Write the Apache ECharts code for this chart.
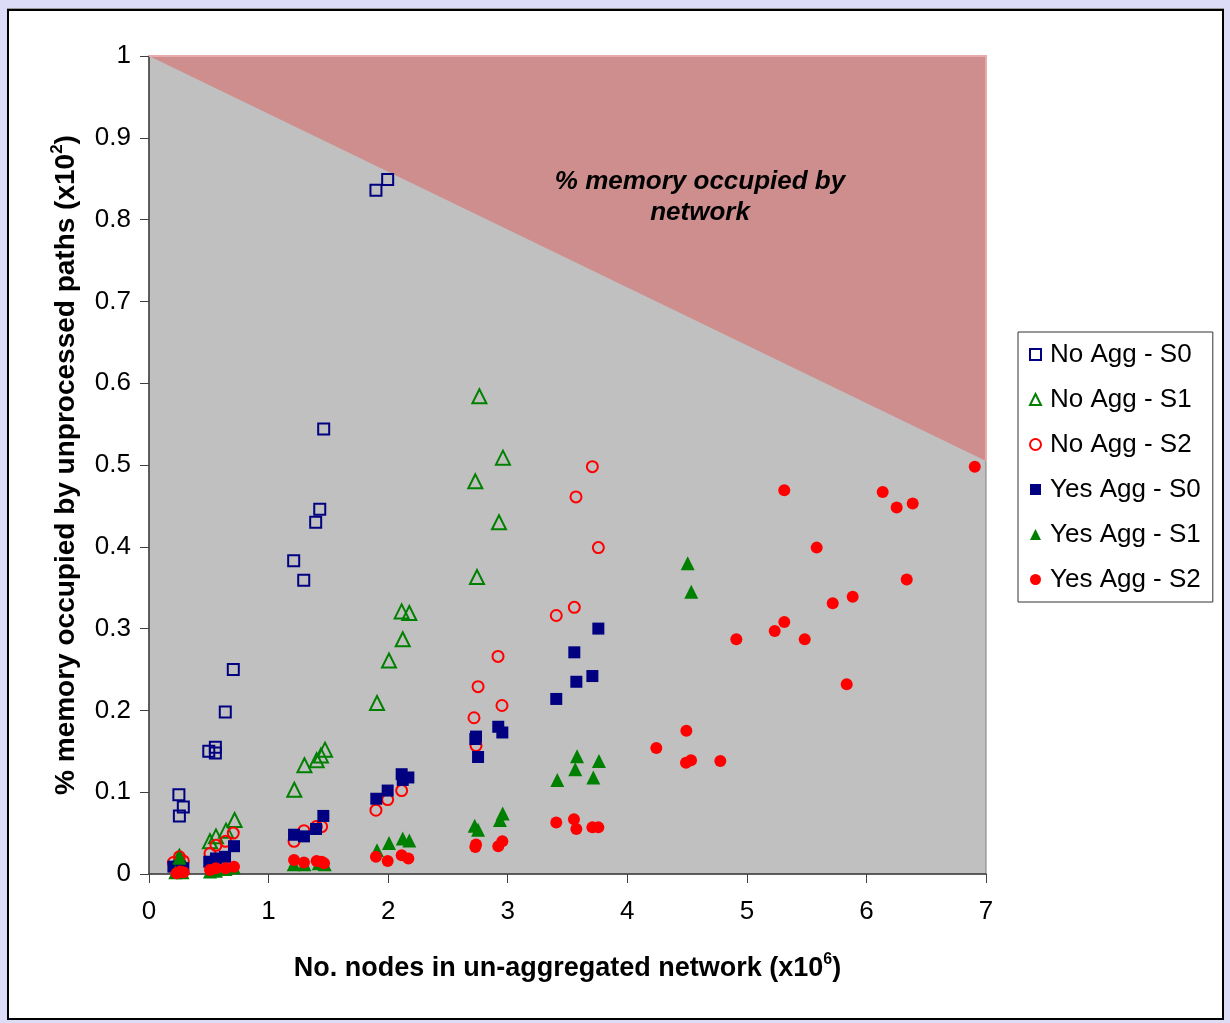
<!DOCTYPE html>
<html>
<head>
<meta charset="utf-8">
<script src="https://cdn.jsdelivr.net/npm/echarts@6/dist/echarts.min.js"></script>
<style>
  html, body { margin: 0; padding: 0; }
  body { width: 1230px; height: 1023px; background: #dcdcf6; position: relative; overflow: hidden; }
  #frame { position: absolute; left: 7px; top: 9px; width: 1213px; height: 1007px; background: #fff; border: 2px solid #000; box-shadow: 0 -1px 0 #999; }
  #chart { position: absolute; left: 0; top: 0; width: 1230px; height: 1023px; }
</style>
</head>
<body>
<div id="frame"></div>
<div id="chart"></div>
<script>
const xTicks = [0, 1, 2, 3, 4, 5, 6, 7];
const yTicks = [0, 0.1, 0.2, 0.3, 0.4, 0.5, 0.6, 0.7, 0.8, 0.9, 1];
const seriesNames = ['No Agg - S0', 'No Agg - S1', 'No Agg - S2', 'Yes Agg - S0', 'Yes Agg - S1', 'Yes Agg - S2'];

const memRegion = [[0, 1], [7, 1], [7, 0.505]];

const noAggS0 = [[0.25,0.097],[0.287,0.082],[0.254,0.071],[0.50,0.150],[0.555,0.155],[0.555,0.148],[0.638,0.198],[0.705,0.250],
  [1.21,0.383],[1.294,0.359],[1.394,0.430],[1.428,0.446],[1.461,0.544],[1.898,0.836],[1.996,0.849]];

const noAggS1 = [[0.254,0.021],[0.51,0.040],[0.56,0.046],[0.644,0.053],[0.716,0.066],[1.215,0.103],[1.30,0.133],[1.402,0.139],
  [1.438,0.145],[1.472,0.152],[1.907,0.209],[2.007,0.261],[2.122,0.287],[2.113,0.321],[2.177,0.319],[2.743,0.363],[2.729,0.480],
  [2.763,0.584],[2.927,0.430],[2.96,0.509]];

const noAggS2 = [[0.204,0.014],[0.254,0.021],[0.287,0.016],[0.51,0.025],[0.56,0.035],[0.64,0.040],[0.705,0.050],[1.213,0.040],
  [1.296,0.053],[1.40,0.058],[1.444,0.058],[1.898,0.078],[1.996,0.091],[2.113,0.102],[2.735,0.157],[2.718,0.191],[2.752,0.229],
  [2.919,0.266],[2.952,0.206],[3.406,0.316],[3.557,0.326],[3.571,0.461],[3.708,0.498],[3.758,0.399]];

const yesAggS0 = [[0.204,0.009],[0.254,0.009],[0.287,0.007],[0.504,0.015],[0.56,0.019],[0.636,0.021],[0.711,0.034],[1.213,0.048],
  [1.296,0.046],[1.397,0.055],[1.458,0.071],[1.901,0.092],[1.996,0.102],[2.113,0.122],[2.122,0.115],[2.169,0.118],[2.729,0.165],
  [2.735,0.168],[2.752,0.143],[2.921,0.180],[2.955,0.173],[3.406,0.214],[3.557,0.271],[3.574,0.235],[3.708,0.242],[3.758,0.300]];

const yesAggS1 = [[0.22,0.002],[0.254,0.02],[0.28,0.002],[0.51,0.003],[0.56,0.004],[0.64,0.006],[0.71,0.008],[1.21,0.012],
  [1.30,0.012],[1.42,0.013],[1.47,0.012],[1.907,0.029],[2.007,0.038],[2.122,0.0435],[2.177,0.041],[2.724,0.059],[2.752,0.054],
  [2.935,0.066],[2.958,0.074],[3.415,0.115],[3.565,0.128],[3.58,0.144],[3.716,0.118],[3.763,0.138],[4.505,0.380],[4.535,0.345]];

const yesAggS2 = [[0.23,0.001],[0.26,0.003],[0.29,0.002],[0.51,0.005],[0.56,0.007],[0.64,0.007],[0.711,0.009],[1.213,0.017],
  [1.296,0.014],[1.402,0.016],[1.444,0.015],[1.464,0.013],[1.898,0.021],[1.996,0.016],[2.113,0.023],[2.169,0.019],[2.729,0.033],
  [2.735,0.036],[2.921,0.034],[2.955,0.040],[3.406,0.063],[3.554,0.067],[3.574,0.055],[3.708,0.057],[3.758,0.057],[4.243,0.154],
  [4.494,0.175],[4.491,0.136],[4.533,0.139],[4.778,0.138],[4.912,0.287],[5.233,0.297],[5.313,0.308],[5.313,0.469],[5.484,0.287],
  [5.584,0.399],[5.718,0.331],[5.835,0.232],[5.885,0.339],[6.136,0.467],[6.253,0.448],[6.337,0.360],[6.387,0.453],[6.906,0.498]];

const NAVY = '#000080', GREEN = '#008000', RED = '#ff0000';
const FONT = 'Liberation Sans, Arial, sans-serif';

function openSeries(name, data, symbol, size, color) {
  return { name, type: 'scatter', data, symbol, symbolSize: size, clip: false, z: 3,
    itemStyle: { color: 'rgba(0,0,0,0)', borderColor: color, borderWidth: 2, opacity: 1 },
    emphasis: { disabled: true } };
}
function filledSeries(name, data, symbol, size, color) {
  return { name, type: 'scatter', data, symbol, symbolSize: size, clip: false, z: 3,
    itemStyle: { color: color, opacity: 1 }, emphasis: { disabled: true } };
}

const chart = echarts.init(document.getElementById('chart'), null, { renderer: 'canvas' });
chart.setOption({
  animation: false,
  backgroundColor: 'transparent',
  textStyle: { fontFamily: FONT },
  grid: { left: 149, top: 56, width: 837, height: 818, show: true, backgroundColor: '#c0c0c0', borderWidth: 1, borderColor: '#808080' },
  xAxis: {
    type: 'value', min: 0, max: 7, interval: 1,
    name: '{b|No. nodes in un-aggregated network (x10}{s|6}{b|)}',
    nameLocation: 'middle', nameGap: 78,
    nameTextStyle: { rich: {
      b: { fontFamily: FONT, fontSize: 27, fontWeight: 'bold', color: '#000', lineHeight: 34, verticalAlign: 'middle' },
      s: { fontFamily: FONT, fontSize: 16, fontWeight: 'bold', color: '#000', lineHeight: 16, verticalAlign: 'top' } } },
    axisLine: { onZero: false, lineStyle: { color: '#404040', width: 1.5 } },
    axisTick: { show: true, inside: false, length: 9, lineStyle: { color: '#404040' } },
    axisLabel: { fontSize: 26, color: '#000', margin: 25, fontFamily: FONT,
      formatter: v => String(xTicks[Math.round(v)]) },
    splitLine: { show: false }
  },
  yAxis: {
    type: 'value', min: 0, max: 1, interval: 0.1,
    name: '{b|% memory occupied by unprocessed paths (x10}{s|2}{b|)}',
    nameLocation: 'middle', nameGap: 66, nameRotate: 90,
    nameTextStyle: { rich: {
      b: { fontFamily: FONT, fontSize: 28, fontWeight: 'bold', color: '#000', lineHeight: 34, verticalAlign: 'middle' },
      s: { fontFamily: FONT, fontSize: 17, fontWeight: 'bold', color: '#000', lineHeight: 17, verticalAlign: 'top' } } },
    axisLine: { onZero: false, lineStyle: { color: '#404040', width: 1.5 } },
    axisTick: { show: true, inside: false, length: 9, lineStyle: { color: '#404040' } },
    axisLabel: { fontSize: 26, color: '#000', margin: 18, fontFamily: FONT,
      formatter: v => String(yTicks[Math.round(v * 10)]) },
    splitLine: { show: false }
  },
  legend: {
    data: seriesNames,
    orient: 'vertical', left: 1018, top: 332,
    backgroundColor: '#fff', borderColor: '#333', borderWidth: 1,
    padding: [8, 12, 8, 11],
    itemWidth: 11, itemHeight: 11, itemGap: 16,
    textStyle: { fontSize: 26, lineHeight: 29, color: '#000', fontFamily: FONT, padding: [0, 0, 0, 4] }
  },
  graphic: [{
    type: 'text', x: 700, y: 166,
    style: { text: '% memory occupied by\nnetwork', textAlign: 'center', textVerticalAlign: 'top', fill: '#000',
      font: 'italic bold 26px ' + FONT, lineHeight: 31 },
    z: 10
  }],
  series: [
    {
      type: 'custom', name: 'region', silent: true, z: 1, clip: false,
      data: [0],
      renderItem: function (params, api) {
        const pts = memRegion.map(p => api.coord(p));
        return { type: 'group', children: [
          { type: 'polygon', shape: { points: pts }, style: { fill: '#cf8e8e', stroke: null } },
          { type: 'polyline', shape: { points: pts.slice(0, 3) }, style: { stroke: '#e8aaaa', lineWidth: 2, fill: null } }
        ]};
      }
    },
    openSeries(seriesNames[0], noAggS0, 'rect', 11, NAVY),
    openSeries(seriesNames[1], noAggS1, 'triangle', 14, GREEN),
    openSeries(seriesNames[2], noAggS2, 'circle', 11, RED),
    filledSeries(seriesNames[3], yesAggS0, 'rect', 12, NAVY),
    filledSeries(seriesNames[4], yesAggS1, 'triangle', 14, GREEN),
    filledSeries(seriesNames[5], yesAggS2, 'circle', 12, RED)
  ]
});
</script>
</body>
</html>
